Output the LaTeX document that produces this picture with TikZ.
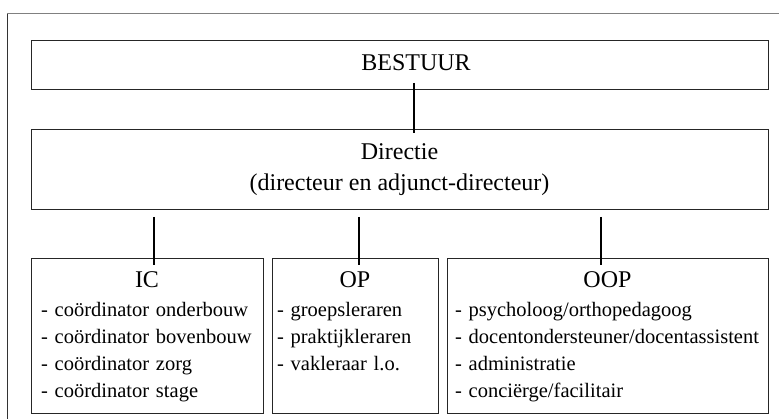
\documentclass[tikz,border=0pt]{standalone}
\usepackage{fontspec}
\setmainfont{Liberation Serif}
\usetikzlibrary{positioning}
\setlength{\parindent}{0pt}
\newcommand{\kop}[1]{{\centering\fontsize{24}{29}\selectfont #1\par}\vspace{2.3pt}}

\begin{document}
\begin{tikzpicture}
	[x=1pt, y=-1pt, inner sep=0pt, outer sep=0pt,
	 vak/.style={draw=black!85, line width=1pt, font=\fontsize{24}{31}\selectfont, align=center},
	 groep/.style={vak, align=left, font=\fontsize{20.5}{26.7}\selectfont, text height=29pt, text depth=125pt},
	 lijn/.style={line width=1.6pt}]
   \useasboundingbox (0,0) rectangle (779,419);
   % kader
   \draw[black!80, line width=0.8pt] (7,425) -- (7,13);
   \draw[gray, line width=0.8pt] (7,13) -- (785,13);
   % bestuur en directie
   \node[vak, minimum width=737pt, minimum height=49pt, text depth=6pt, anchor=north west] (bestuur) at (31,41) {\hspace*{33pt}BESTUUR};
   \node[vak, minimum width=737pt, minimum height=80pt] (directie) [below=40pt of bestuur] {Directie\\(directeur en adjunct-directeur)};
   % groepen
   \node[groep, text width=212pt, inner xsep=10pt] (ic) [below=49pt of directie.south west, anchor=north west]
      {\kop{IC}- coördinator onderbouw\\- coördinator bovenbouw\\- coördinator zorg\\- coördinator stage};
   \node[groep, text width=156pt, inner xsep=5pt] (op) [right=9pt of ic.north east, anchor=north west]
      {\kop{OP}- groepsleraren\\- praktijkleraren\\- vakleraar l.o.};
   \node[groep, text width=305pt, inner xsep=8pt] (oop) [right=9pt of op.north east, anchor=north west]
      {\kop{OOP}- psycholoog/orthopedagoog\\- docentondersteuner/docentassistent\\- administratie\\- conciërge/facilitair};
   % lijnen
   \draw[lijn] ([xshift=14.5pt, yshift=7pt]bestuur.south) -- ([xshift=14.5pt, yshift=-3.5pt]directie.north);
   \foreach \n/\dx in {ic/7pt, op/4pt, oop/-6.5pt}
      \draw[lijn] ([xshift=\dx, yshift=-7pt]directie.south -| \n.north) -- ([xshift=\dx, yshift=-6pt]\n.north);
\end{tikzpicture}
\end{document}
